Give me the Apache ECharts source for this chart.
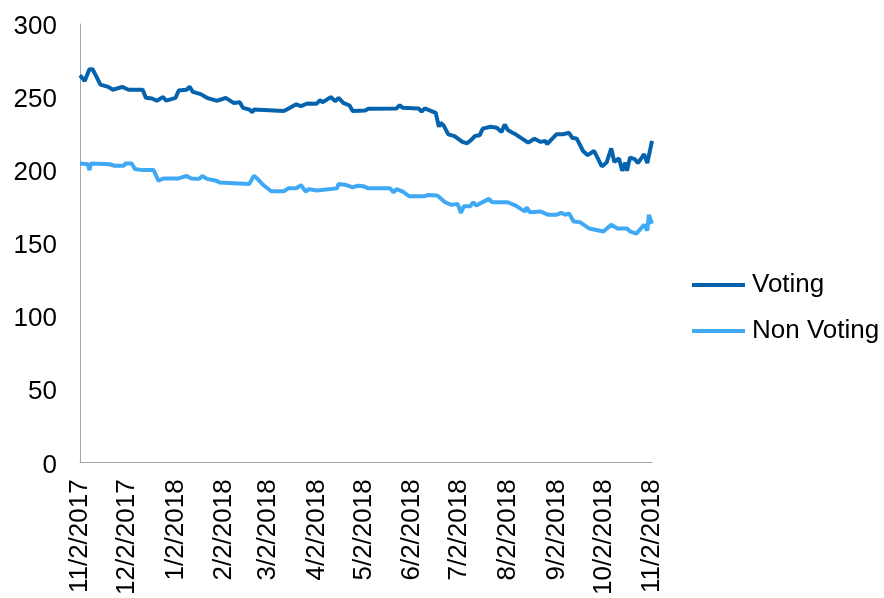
<!DOCTYPE html>
<html><head><meta charset="utf-8">
<script src="https://cdn.jsdelivr.net/npm/echarts@6/dist/echarts.min.js"></script>
<style>html,body{margin:0;padding:0;background:#fff}#c{width:884px;height:598px}</style>
</head><body><div id="c"></div>
<script>
// Day offsets from 11/2/2017 and values
const startDate = [2017, 10, 2];
const dayCount = 366;
const votingPoints = [[0,265],[3,261],[6,269],[8,269],[10,265],[13,258.5],[18,257],[21,255],[27,257],[31,255],[40,255],[42,249.5],[46,249],[49,247.5],[53,250],[55,247.5],[61,249.5],[63,254.5],[68,255],[70,257],[72,253.5],[77,252],[81,249.5],[87,247.5],[89,248],[93,249.4],[98,246],[102,246.5],[104,242.6],[108,241.5],[110,239.7],[111,241.5],[130,240.4],[132,241.5],[138,245],[141,243.8],[145,245.6],[151,245.4],[153,247.8],[155,246.5],[160,250],[163,247.2],[165,249.4],[168,246],[172,244.2],[174,240.4],[182,240.8],[184,242],[186,242],[202,242.2],[204,244.4],[206,242.6],[216,242.2],[218,240],[220,242.2],[227,239.2],[229,229.7],[230,232.4],[232,230.6],[235,224.5],[239,223.3],[244,219.3],[247,218.4],[250,221],[252,223.3],[255,223.8],[257,228.4],[262,229.7],[266,229],[269,226],[271,231.3],[273,227.4],[276,225.6],[278,224.5],[286,218.8],[290,221.5],[294,219.3],[297,220],[298,217.7],[304,224.5],[308,224.5],[312,225.6],[314,222.2],[317,221.5],[321,213.1],[324,210.2],[328,213.1],[333,202.5],[336,205.2],[339,214.8],[341,205.6],[344,208],[346,199.5],[348,205.2],[349,199.5],[351,208.6],[354,207.5],[356,204.8],[360,210.9],[362,204.8],[365,220]];
const nonVotingPoints = [[0,204.5],[5,204],[6,200],[7,204.5],[19,204],[22,203],[28,203],[29,204.5],[33,204.5],[35,200.7],[40,200],[47,200],[50,192.7],[53,194.3],[63,194.3],[68,196],[71,194.3],[76,194],[78,196],[81,194],[87,192.7],[89,191.6],[108,190.5],[111,196.1],[113,194.3],[117,189.8],[122,185.5],[130,185.5],[133,187.5],[138,187.5],[141,189.8],[144,185.3],[146,187],[151,186],[164,187.5],[165,190.5],[170,189.8],[174,188.2],[177,189.3],[181,188.9],[184,187.5],[198,187.5],[200,184.8],[202,187],[206,185.3],[210,182.1],[220,182.1],[222,183],[228,182.6],[233,178],[237,176.2],[241,176.9],[243,170.7],[245,175.3],[249,175.3],[251,178],[253,175.7],[256,177.6],[261,180.3],[263,178],[273,178],[278,175.7],[284,171.6],[285,174.6],[287,171.2],[294,171.6],[299,169.4],[304,169.4],[307,170.7],[310,169.4],[312,170.5],[315,164.8],[319,164.4],[325,160],[334,158],[339,162.6],[343,160],[349,160],[351,158],[355,156.5],[360,162.6],[362,158.7],[363,169.4],[365,163.3]];
const seriesNames = ['Voting', 'Non Voting'];

const categories = [];
for (let i = 0; i < dayCount; i++) {
  const d = new Date(Date.UTC(startDate[0], startDate[1], startDate[2] + i));
  categories.push((d.getUTCMonth() + 1) + '/' + d.getUTCDate() + '/' + d.getUTCFullYear());
}
const toPairs = pts => pts.map(p => [categories[p[0]], p[1]]);

const font = "'Liberation Sans', Arial, sans-serif";
const chart = echarts.init(document.getElementById('c'), null, {renderer: 'canvas'});
chart.setOption({
  animation: false,
  backgroundColor: '#fff',
  grid: {left: 80, right: 232, top: 24, bottom: 133, containLabel: false},
  legend: {
    orient: 'vertical', left: 692, top: 270, padding: 0,
    icon: 'rect', itemWidth: 53, itemHeight: 4, itemGap: 16,
    textStyle: {fontFamily: font, fontSize: 26, color: '#000', lineHeight: 30, padding: [0, 0, 0, 2]},
    data: seriesNames
  },
  xAxis: {
    type: 'category', data: categories, boundaryGap: false,
    axisLine: {lineStyle: {color: '#a6a6a6', width: 1}},
    axisTick: {show: false},
    splitLine: {show: false},
    axisLabel: {
      rotate: 90, margin: 17, color: '#000', fontFamily: font, fontSize: 26,
      hideOverlap: false,
      interval: function (idx, val) { return val.split('/')[1] === '2'; }
    }
  },
  yAxis: {
    type: 'value', min: 0, max: 300, interval: 50,
    axisLine: {show: true, lineStyle: {color: '#a6a6a6', width: 1}},
    axisTick: {show: false},
    splitLine: {show: false},
    axisLabel: {
      margin: 23, color: '#000', fontFamily: font, fontSize: 26,
      formatter: '{a|{value}}',
      rich: {a: {fontFamily: font, fontSize: 26, color: '#000', padding: [6, 0, 0, 0]}}
    }
  },
  series: [
    {name: seriesNames[0], type: 'line', data: toPairs(votingPoints), showSymbol: false, symbol: 'none',
     lineStyle: {color: '#0563ae', width: 4}, itemStyle: {color: '#0563ae'}},
    {name: seriesNames[1], type: 'line', data: toPairs(nonVotingPoints), showSymbol: false, symbol: 'none',
     lineStyle: {color: '#3fa9f5', width: 4}, itemStyle: {color: '#3fa9f5'}}
  ]
});
</script></body></html>
